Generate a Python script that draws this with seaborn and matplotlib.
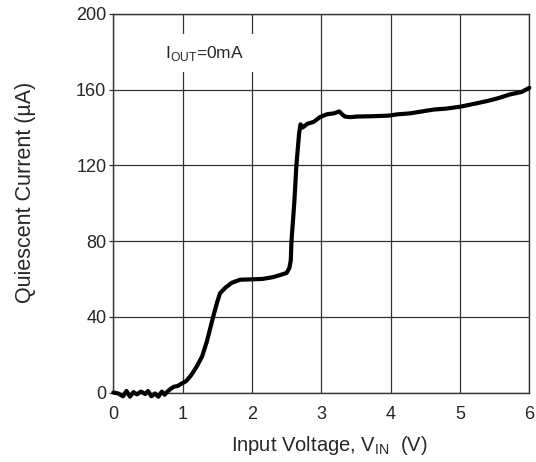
import matplotlib
matplotlib.use("Agg")
import matplotlib.pyplot as plt
import seaborn as sns
import pandas as pd

# Data
vin = [0.00, 0.07, 0.14, 0.19, 0.24, 0.29, 0.34, 0.40, 0.46, 0.50, 0.55, 0.60,
       0.65, 0.70, 0.74, 0.78, 0.83, 0.87, 0.93, 0.99, 1.05, 1.12, 1.20, 1.28,
       1.35, 1.44, 1.50, 1.54, 1.62, 1.71, 1.83, 2.00, 2.15, 2.31, 2.40, 2.50,
       2.54, 2.56, 2.57, 2.61, 2.64, 2.68, 2.70, 2.73, 2.80, 2.89, 2.98, 3.08,
       3.18, 3.26, 3.30, 3.34, 3.42, 3.51, 3.75, 3.97, 4.10, 4.28, 4.45, 4.62,
       4.80, 5.00, 5.20, 5.39, 5.55, 5.72, 5.89, 6.00]
iq = [0.0, -0.5, -2.0, 0.8, -2.2, 0.2, -1.0, 0.5, -0.8, 0.8, -2.0, -0.5,
      -2.2, 0.5, -1.2, 0.5, 2.0, 3.0, 3.5, 4.8, 6.0, 9.0, 13.5, 19.0,
      27.0, 40.0, 48.0, 52.5, 55.5, 58.0, 59.6, 59.8, 60.0, 61.0, 62.0, 63.2,
      65.8, 70.0, 80.0, 100.0, 119.6, 137.0, 141.7, 140.0, 142.0, 143.0, 145.5, 147.0,
      147.5, 148.5, 147.0, 145.8, 145.5, 145.8, 146.0, 146.3, 147.0, 147.5, 148.5, 149.5,
      150.0, 151.0, 152.5, 154.0, 155.5, 157.5, 158.8, 161.0]
x_ticks = [0, 1, 2, 3, 4, 5, 6]
y_ticks = [0, 40, 80, 120, 160, 200]

df = pd.DataFrame({"vin": vin, "iq": iq})

sns.set_style("white")
plt.rcParams["font.family"] = ["Liberation Sans", "DejaVu Sans"]
plt.rcParams["mathtext.fontset"] = "custom"
plt.rcParams["mathtext.rm"] = "Liberation Sans"

fig = plt.figure(figsize=(5.36, 4.62), dpi=100)
ax = fig.add_axes([113.3 / 536, 1 - 392.5 / 462, 416 / 536, 378.5 / 462])

sns.lineplot(data=df, x="vin", y="iq", ax=ax, sort=False, estimator=None,
             color="black", linewidth=3.0, zorder=5)
ax.lines[0].set_clip_on(False)

ax.set_xlim(0, 6)
ax.set_ylim(0, 200)
ax.set_xticks(x_ticks)
ax.set_yticks(y_ticks)
ax.grid(True, color="#333333", linewidth=0.9)
ax.set_axisbelow(True)
for side in ["top", "right", "left", "bottom"]:
    ax.spines[side].set_color("#333333")
    ax.spines[side].set_linewidth(1.0)

ax.tick_params(axis="y", which="both", length=3, width=0.9, color="#333333",
               labelsize=13, pad=2, left=True)
ax.tick_params(axis="x", which="both", length=0, labelsize=13, pad=10)

ax.set_xlabel(r"Input Voltage, V$_{\mathregular{IN}}$  (V)", fontsize=14.5)
ax.set_ylabel("Quiescent Current (\u00b5A)", fontsize=15.5)
ax.xaxis.set_label_coords(0.52, -0.11)
ax.yaxis.set_label_coords(-0.185, 0.53)

ax.text(0.75, 177, r"I$_{\mathregular{OUT}}$=0mA", fontsize=12.5,
        ha="left", va="baseline", zorder=3,
        bbox=dict(facecolor="white", edgecolor="none", pad=7))

fig.savefig("out.png", dpi=100)
